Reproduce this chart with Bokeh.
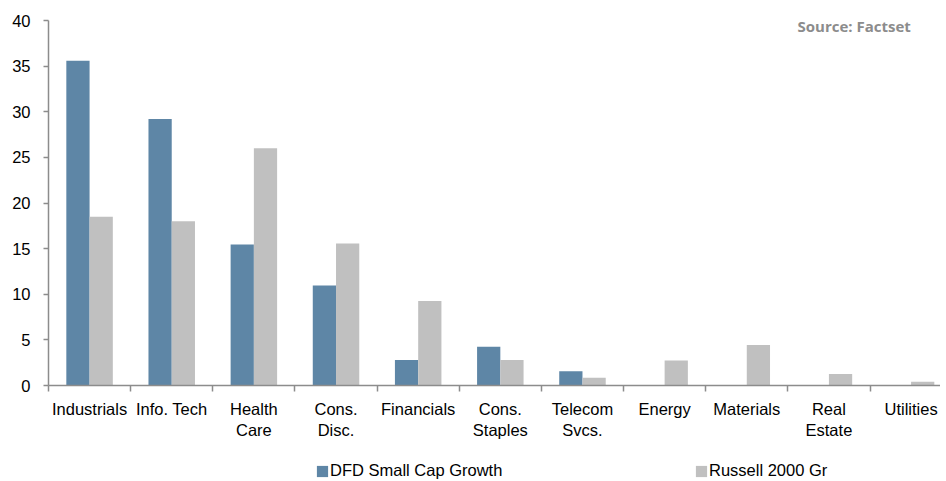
import numpy as np
from bokeh.plotting import figure
from bokeh.layouts import column
from bokeh.models import Range1d, FixedTicker, Legend, LegendItem, Label, ColumnDataSource
from bokeh.transform import dodge
from bokeh.embed import file_html
from bokeh.resources import INLINE

# ---- data ----
categories = ["Industrials", "Info. Tech", "Health\nCare", "Cons.\nDisc.", "Financials",
              "Cons.\nStaples", "Telecom\nSvcs.", "Energy", "Materials", "Real\nEstate", "Utilities"]
dfd_small_cap_growth = [35.6, 29.2, 15.45, 10.95, 2.8, 4.25, 1.55, 0.0, 0.0, 0.0, 0.0]
russell_2000_gr = [18.5, 18.0, 26.0, 15.55, 9.25, 2.8, 0.85, 2.75, 4.45, 1.25, 0.4]
series_names = ["DFD Small Cap Growth", "Russell 2000 Gr"]
y_ticks = [0, 5, 10, 15, 20, 25, 30, 35, 40]
source_text = "Source: Factset"

BLUE = "#5E86A6"
GRAY = "#C0C0C0"
AXIS = "#8C8C8C"
FONT = "Liberation Sans"
FS = "16.5px"

centers = (np.arange(len(categories)) + 0.5).tolist()
src = ColumnDataSource(dict(x=centers, dfd=dfd_small_cap_growth, rus=russell_2000_gr))

W = 940
p = figure(width=W, height=442,
           x_range=Range1d(0, (W - 48) / 82.15), y_range=Range1d(0, 40),
           min_border_left=48, min_border_right=0, min_border_top=20, min_border_bottom=51,
           output_backend="svg", toolbar_location=None)
p.outline_line_color = None
p.grid.visible = False
p.background_fill_color = "white"

bw = 0.283
r1 = p.vbar(x=dodge("x", -bw / 2, range=p.x_range), top="dfd", width=bw, source=src,
            fill_color=BLUE, line_color=None)
r2 = p.vbar(x=dodge("x", bw / 2, range=p.x_range), top="rus", width=bw, source=src,
            fill_color=GRAY, line_color=None)

# y axis
ya = p.yaxis[0]
ya.ticker = FixedTicker(ticks=y_ticks)
ya.axis_line_color = AXIS
ya.axis_line_width = 1.5
ya.major_tick_line_color = AXIS
ya.major_tick_line_width = 1.5
ya.major_tick_in = 0
ya.major_tick_out = 5
ya.minor_tick_line_color = None
ya.major_label_standoff = 13
ya.major_label_text_font = FONT
ya.major_label_text_font_size = FS
ya.major_label_text_color = "black"

# x axis
xa = p.xaxis[0]
xa.ticker = FixedTicker(ticks=centers, minor_ticks=list(range(len(categories) + 1)))
xa.major_label_overrides = {c: lab for c, lab in zip(centers, categories)}
xa.axis_line_color = AXIS
xa.axis_line_width = 1.5
xa.major_tick_line_color = None
xa.major_tick_in = 0
xa.major_tick_out = 6
xa.minor_tick_line_color = AXIS
xa.minor_tick_line_width = 1.5
xa.minor_tick_in = 0
xa.minor_tick_out = 6
xa.major_label_standoff = 8
xa.major_label_text_font = FONT
xa.major_label_text_font_size = FS
xa.major_label_text_color = "black"

p.add_layout(Label(x=(797 - 48) / 82.15, y=40 - 6 / 9.275, text=source_text, text_font="Open Sans",
                   text_font_style="bold", text_font_size="15px", text_color="#8C8C8C",
                   text_baseline="middle"))

# legend strip below the chart (its ranges keep the key glyphs' own bars out of view)
lg = figure(width=W, height=39, x_range=Range1d(100, 101), y_range=Range1d(100, 101),
            min_border=0, output_backend="svg", toolbar_location=None)
lg.outline_line_color = None
lg.axis.visible = False
lg.grid.visible = False
k1 = lg.vbar(x="x", top="dfd", width=bw, source=src, fill_color=BLUE, line_color=None)
k2 = lg.vbar(x="x", top="rus", width=bw, source=src, fill_color=GRAY, line_color=None)
legend = Legend(items=[LegendItem(label=series_names[0], renderers=[k1]),
                       LegendItem(label=series_names[1], renderers=[k2])],
                location=(267, 1), orientation="horizontal",
                glyph_width=14, glyph_height=14, label_standoff=1, label_width=364,
                label_height=14, spacing=0, padding=0, margin=0, border_line_color=None,
                background_fill_alpha=0,
                label_text_font=FONT, label_text_font_size=FS, label_text_color="black")
lg.add_layout(legend, "center")

layout = column(p, lg, spacing=0)
open("out.html", "w").write(file_html(layout, INLINE))
